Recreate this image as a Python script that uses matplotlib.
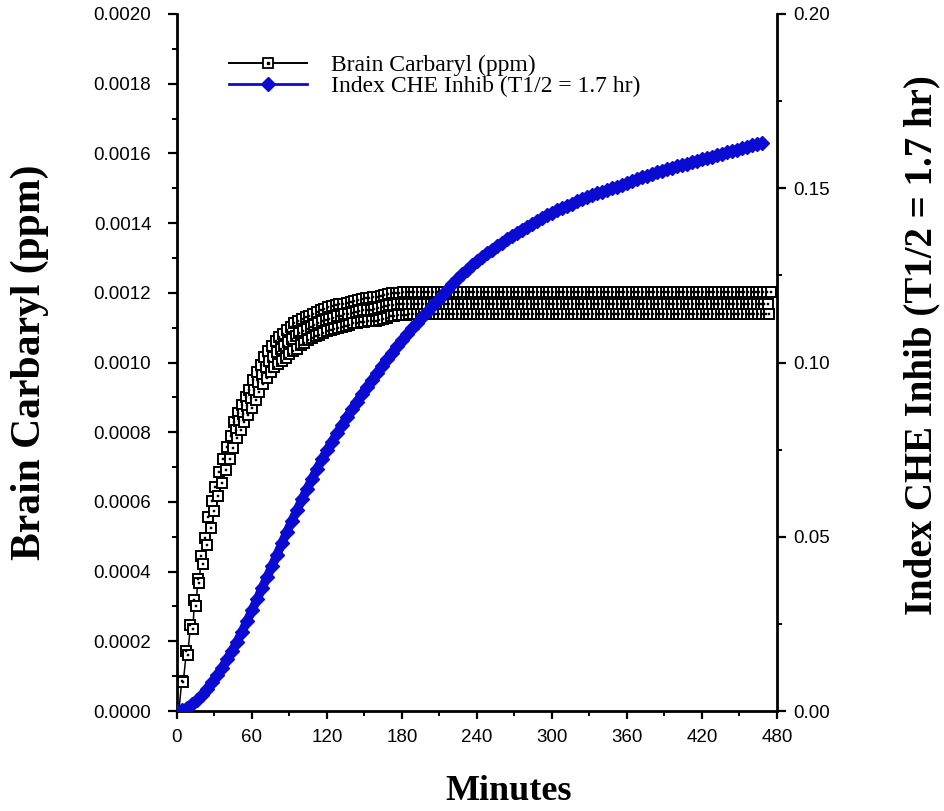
import matplotlib
matplotlib.use('Agg')
import matplotlib.pyplot as plt
from matplotlib.lines import Line2D
from matplotlib.ticker import MultipleLocator, FormatStrFormatter
from matplotlib.legend_handler import HandlerTuple

# ---------------- data ----------------
carb_early_min = [0, 1.5, 3.8, 5, 7.6, 8.6, 10.8, 12.7, 14, 15.5, 16.5, 18, 19, 21,
                  22.8, 24.4, 25, 27, 28.2, 30, 30.7, 33, 34, 36, 37, 39.6, 40, 42.5,
                  43, 45]
carb_early_ppm = [0.0, 0.0, 0.000086, 0.000083, 0.000173, 0.000162, 0.000246, 0.000235,
                  0.000319, 0.000300, 0.000380, 0.000368, 0.000445, 0.000422, 0.000497,
                  0.000476, 0.000557, 0.000524, 0.000603, 0.000573, 0.000643, 0.000616,
                  0.000686, 0.000654, 0.000724, 0.000692, 0.000757, 0.000724, 0.000789,
                  0.000754]

# one reading per minute from 46 to 475 (the curve cycles over three levels)
carb_grid_min = list(range(46, 476))
carb_grid_ppm = [
    0.000830, 0.000806, 0.000782, 0.000855, 0.000832, 0.000807,
    0.000878, 0.000853, 0.000828, 0.000900, 0.000875, 0.000849,
    0.000921, 0.000897, 0.000870, 0.000950, 0.000922, 0.000893,
    0.000973, 0.000944, 0.000915, 0.000994, 0.000965, 0.000937,
    0.001016, 0.000986, 0.000956, 0.001033, 0.001003, 0.000973,
    0.001047, 0.001017, 0.000987, 0.001061, 0.001029, 0.000995,
    0.001072, 0.001038, 0.001003, 0.001083, 0.001048, 0.001014,
    0.001093, 0.001058, 0.001023, 0.001103, 0.001068, 0.001032,
    0.001112, 0.001076, 0.001040, 0.001119, 0.001084, 0.001049,
    0.001125, 0.001090, 0.001056, 0.001130, 0.001096, 0.001064,
    0.001134, 0.001102, 0.001070, 0.001139, 0.001107, 0.001076,
    0.001144, 0.001113, 0.001080, 0.001151, 0.001118, 0.001086,
    0.001154, 0.001122, 0.001090, 0.001158, 0.001126, 0.001093,
    0.001162, 0.001129, 0.001096, 0.001165, 0.001132, 0.001099,
    0.001167, 0.001134, 0.001102, 0.001169, 0.001138, 0.001106,
    0.001172, 0.001140, 0.001109, 0.001175, 0.001143, 0.001112,
    0.001177, 0.001146, 0.001114, 0.001180, 0.001148, 0.001116,
    0.001182, 0.001150, 0.001117, 0.001185, 0.001151, 0.001118,
    0.001186, 0.001152, 0.001118, 0.001188, 0.001154, 0.001120,
    0.001189, 0.001155, 0.001122, 0.001190, 0.001158, 0.001125,
    0.001193, 0.001161, 0.001129, 0.001196, 0.001164, 0.001132,
    0.001198, 0.001166, 0.001133, 0.001200, 0.001167, 0.001135,
    0.001200, 0.001168, 0.001136, 0.001201, 0.001169, 0.001137,
    # plateau, 184 .. 475
    0.001201, 0.001169, 0.001138, 0.001201, 0.001169, 0.001138, 0.001201, 0.001169, 0.001138,
    0.001201, 0.001169, 0.001138, 0.001201, 0.001169, 0.001138, 0.001201, 0.001169, 0.001138,
    0.001201, 0.001169, 0.001138, 0.001201, 0.001169, 0.001138, 0.001201, 0.001169, 0.001138,
    0.001201, 0.001169, 0.001138, 0.001201, 0.001169, 0.001138, 0.001201, 0.001169, 0.001138,
    0.001201, 0.001169, 0.001138, 0.001201, 0.001169, 0.001138, 0.001201, 0.001169, 0.001138,
    0.001201, 0.001169, 0.001138, 0.001201, 0.001169, 0.001138, 0.001201, 0.001169, 0.001138,
    0.001201, 0.001169, 0.001138, 0.001201, 0.001169, 0.001138, 0.001201, 0.001169, 0.001138,
    0.001201, 0.001169, 0.001138, 0.001201, 0.001169, 0.001138, 0.001201, 0.001169, 0.001138,
    0.001201, 0.001169, 0.001138, 0.001201, 0.001169, 0.001138, 0.001201, 0.001169, 0.001138,
    0.001201, 0.001169, 0.001138, 0.001201, 0.001169, 0.001138, 0.001201, 0.001169, 0.001138,
    0.001201, 0.001169, 0.001138, 0.001201, 0.001169, 0.001138, 0.001201, 0.001169, 0.001138,
    0.001201, 0.001169, 0.001138, 0.001201, 0.001169, 0.001138, 0.001201, 0.001169, 0.001138,
    0.001201, 0.001169, 0.001138, 0.001201, 0.001169, 0.001138, 0.001201, 0.001169, 0.001138,
    0.001201, 0.001169, 0.001138, 0.001201, 0.001169, 0.001138, 0.001201, 0.001169, 0.001138,
    0.001201, 0.001169, 0.001138, 0.001201, 0.001169, 0.001138, 0.001201, 0.001169, 0.001138,
    0.001201, 0.001169, 0.001138, 0.001201, 0.001169, 0.001138, 0.001201, 0.001169, 0.001138,
    0.001201, 0.001169, 0.001138, 0.001201, 0.001169, 0.001138, 0.001201, 0.001169, 0.001138,
    0.001201, 0.001169, 0.001138, 0.001201, 0.001169, 0.001138, 0.001201, 0.001169, 0.001138,
    0.001201, 0.001169, 0.001138, 0.001201, 0.001169, 0.001138, 0.001201, 0.001169, 0.001138,
    0.001201, 0.001169, 0.001138, 0.001201, 0.001169, 0.001138, 0.001201, 0.001169, 0.001138,
    0.001201, 0.001169, 0.001138, 0.001201, 0.001169, 0.001138, 0.001201, 0.001169, 0.001138,
    0.001201, 0.001169, 0.001138, 0.001201, 0.001169, 0.001138, 0.001201, 0.001169, 0.001138,
    0.001201, 0.001169, 0.001138, 0.001201, 0.001169, 0.001138, 0.001201, 0.001169, 0.001138,
    0.001201, 0.001169, 0.001138, 0.001201, 0.001169, 0.001138, 0.001201, 0.001169, 0.001138,
    0.001201, 0.001169, 0.001138, 0.001201, 0.001169, 0.001138, 0.001201, 0.001169, 0.001138,
    0.001201, 0.001169, 0.001138, 0.001201, 0.001169, 0.001138, 0.001201, 0.001169, 0.001138,
    0.001201, 0.001169, 0.001138, 0.001201, 0.001169, 0.001138, 0.001201, 0.001169, 0.001138,
    0.001201, 0.001169, 0.001138, 0.001201, 0.001169, 0.001138, 0.001201, 0.001169, 0.001138,
    0.001201, 0.001169, 0.001138, 0.001201, 0.001169, 0.001138, 0.001201, 0.001169, 0.001138,
    0.001201, 0.001169, 0.001138, 0.001201, 0.001169, 0.001138, 0.001201, 0.001169, 0.001138,
    0.001201, 0.001169, 0.001138, 0.001201, 0.001169, 0.001138, 0.001201, 0.001169, 0.001138,
    0.001201, 0.001169, 0.001138, 0.001201, 0.001169, 0.001138, 0.001201, 0.001169, 0.001138,
    0.001201, 0.001169, 0.001138, 0.001201,
]

che_min = list(range(0, 469, 4))
che_index = [
    0.0000, 0.0002, 0.0010, 0.0021, 0.0032, 0.0045, 0.0064, 0.0082, 0.0102, 0.0124,
    0.0148, 0.0173, 0.0199, 0.0227, 0.0258, 0.0289, 0.0320, 0.0352, 0.0384, 0.0416,
    0.0449, 0.0482, 0.0515, 0.0546, 0.0577, 0.0607, 0.0637, 0.0666, 0.0695, 0.0722,
    0.0748, 0.0773, 0.0797, 0.0821, 0.0844, 0.0866, 0.0888, 0.0909, 0.0930, 0.0950,
    0.0970, 0.0990, 0.1009, 0.1028, 0.1046, 0.1064, 0.1081, 0.1098, 0.1114, 0.1130,
    0.1146, 0.1162, 0.1177, 0.1192, 0.1209, 0.1224, 0.1239, 0.1253, 0.1266, 0.1279,
    0.1291, 0.1302, 0.1313, 0.1324, 0.1334, 0.1344, 0.1354, 0.1363, 0.1372, 0.1381,
    0.1390, 0.1398, 0.1406, 0.1414, 0.1422, 0.1430, 0.1437, 0.1444, 0.1450, 0.1456,
    0.1462, 0.1468, 0.1474, 0.1480, 0.1485, 0.1490, 0.1495, 0.1500, 0.1505, 0.1510,
    0.1515, 0.1520, 0.1526, 0.1531, 0.1536, 0.1541, 0.1546, 0.1550, 0.1555, 0.1559,
    0.1563, 0.1567, 0.1571, 0.1575, 0.1579, 0.1583, 0.1587, 0.1591, 0.1595, 0.1599,
    0.1603, 0.1607, 0.1611, 0.1615, 0.1619, 0.1623, 0.1626, 0.1630,
]

x_ticks = [0, 60, 120, 180, 240, 300, 360, 420, 480]
left_ticks = [0.0000, 0.0002, 0.0004, 0.0006, 0.0008, 0.0010, 0.0012, 0.0014, 0.0016, 0.0018, 0.0020]
right_ticks = [0.00, 0.05, 0.10, 0.15, 0.20]

label_carb = "Brain Carbaryl (ppm)"
label_che = "Index CHE Inhib (T1/2 = 1.7 hr)"

# ---------------- figure ----------------
W, H = 945, 811
fig = plt.figure(figsize=(W / 100, H / 100), dpi=100)
ax = fig.add_axes([177 / W, 1 - 711 / H, 600 / W, 697 / H])
ax2 = ax.twinx()

carb_t = carb_early_min + carb_grid_min
carb_v = carb_early_ppm + carb_grid_ppm

blue = '#0a0ad2'

ax.plot(carb_t, carb_v, color='black', lw=1.1, marker='s', ms=6.9,
        mfc='white', mec='black', mew=1.4, zorder=3)
ax.plot(carb_t, carb_v, ls='none', marker='s', ms=1.5, mfc='black',
        mec='black', mew=0.3, zorder=4)
ax2.plot(che_min, che_index, color=blue, lw=6.5, marker='D', ms=7,
         mfc=blue, mec=blue, solid_capstyle='round', zorder=3)

ax.set_xlim(0, 480)
ax.set_ylim(0, 0.002)
ax2.set_ylim(0, 0.2)

ax.set_xticks(x_ticks)
ax.xaxis.set_minor_locator(MultipleLocator(30))
ax.set_yticks(left_ticks)
ax.yaxis.set_minor_locator(MultipleLocator(0.0001))
ax.yaxis.set_major_formatter(FormatStrFormatter('%.4f'))
ax2.set_yticks(right_ticks)
ax2.yaxis.set_minor_locator(MultipleLocator(0.025))
ax2.yaxis.set_major_formatter(FormatStrFormatter('%.2f'))

for a in (ax, ax2):
    a.spines['top'].set_visible(False)
    for s in a.spines.values():
        s.set_linewidth(2.0)
ax.spines['right'].set_visible(False)
ax2.spines['left'].set_visible(False)
ax2.spines['bottom'].set_visible(False)

tick_font = 'Liberation Sans'
fs_tick = 13.5
ax.tick_params(axis='y', which='major', direction='out', length=6.5, width=1.6,
               pad=12, labelsize=fs_tick)
ax.tick_params(axis='y', which='minor', direction='out', length=3.5, width=1.4)
ax.tick_params(axis='x', which='major', direction='out', length=6, width=1.6,
               pad=7, labelsize=fs_tick)
ax.tick_params(axis='x', which='minor', direction='out', length=3.5, width=1.4)
ax2.tick_params(axis='y', which='major', direction='out', length=6.5, width=1.6,
                pad=5, labelsize=fs_tick)
ax2.tick_params(axis='y', which='minor', direction='out', length=3.5, width=1.4)
for lab in ax.get_xticklabels() + ax.get_yticklabels() + ax2.get_yticklabels():
    lab.set_fontfamily(tick_font)

serif = 'Liberation Serif'
fig.text(30 / W, 1 - 362 / H, label_carb, rotation=90, ha='center', va='center',
         fontfamily=serif, fontweight='bold', fontsize=30)
fig.text(922 / W, 1 - 345 / H, label_che, rotation=90, ha='center', va='center',
         fontfamily=serif, fontweight='bold', fontsize=28)
fig.text(509 / W, 1 - 791 / H, "Minutes", ha='center', va='center',
         fontfamily=serif, fontweight='bold', fontsize=26)

h_black = Line2D([], [], color='black', lw=1.4, marker='s', ms=6.5, mfc='white',
                 mec='black', mew=1.3)
h_dot = Line2D([], [], ls='none', marker='s', ms=1.5, color='black')
h_blue = Line2D([], [], color=blue, lw=2.0, marker='D', ms=7, mfc=blue, mec=blue)

leg = ax2.legend([(h_black, h_dot), h_blue], [label_carb, label_che],
                 handler_map={tuple: HandlerTuple(ndivide=1)}, numpoints=1,
                 loc='upper left', bbox_to_anchor=(0.0867, 0.942), frameon=False,
                 prop={'family': serif, 'size': 17}, handlelength=3.3,
                 handletextpad=1.0, labelspacing=0.0, borderpad=0, borderaxespad=0)

fig.savefig('out.png', dpi=100)
